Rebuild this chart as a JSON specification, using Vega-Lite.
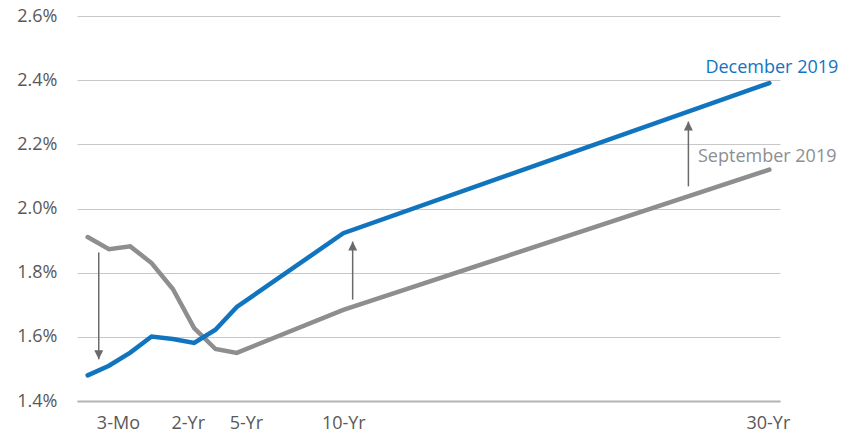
{
  "$schema": "https://vega.github.io/schema/vega-lite/v6.json",
  "width": 703,
  "height": 385,
  "autosize": {"type": "none"},
  "padding": {"left": 77, "top": 16, "right": 72, "bottom": 34},
  "background": "white",
  "config": {
    "view": {"stroke": null},
    "font": "Open Sans"
  },
  "datasets": {
    "curves": [
      {"series": "September 2019", "x": 0, "y": 1.911},
      {"series": "September 2019", "x": 1, "y": 1.873},
      {"series": "September 2019", "x": 2, "y": 1.882},
      {"series": "September 2019", "x": 3, "y": 1.830},
      {"series": "September 2019", "x": 4, "y": 1.749},
      {"series": "September 2019", "x": 5, "y": 1.627},
      {"series": "September 2019", "x": 6, "y": 1.562},
      {"series": "September 2019", "x": 7, "y": 1.550},
      {"series": "September 2019", "x": 12, "y": 1.684},
      {"series": "September 2019", "x": 32, "y": 2.121},
      {"series": "December 2019", "x": 0, "y": 1.480},
      {"series": "December 2019", "x": 1, "y": 1.510},
      {"series": "December 2019", "x": 2, "y": 1.551},
      {"series": "December 2019", "x": 3, "y": 1.601},
      {"series": "December 2019", "x": 4, "y": 1.593},
      {"series": "December 2019", "x": 5, "y": 1.581},
      {"series": "December 2019", "x": 6, "y": 1.622},
      {"series": "December 2019", "x": 7, "y": 1.693},
      {"series": "December 2019", "x": 12, "y": 1.923},
      {"series": "December 2019", "x": 32, "y": 2.391}
    ],
    "arrows": [
      {"x": 0.52, "from": 1.863, "to": 1.530, "dir": "down"},
      {"x": 12.44, "from": 1.716, "to": 1.897, "dir": "up"},
      {"x": 28.2, "from": 2.069, "to": 2.271, "dir": "up"}
    ],
    "labels": [
      {"series": "December 2019", "x": 29.0, "y": 2.437},
      {"series": "September 2019", "x": 28.65, "y": 2.162}
    ]
  },
  "layer": [
    {
      "data": {"name": "curves"},
      "mark": {"type": "line", "strokeWidth": 4.5, "strokeCap": "round", "strokeJoin": "miter"},
      "encoding": {
        "x": {
          "field": "x", "type": "quantitative",
          "scale": {"domain": [-0.5, 32.5], "nice": false, "zero": false},
          "axis": {
            "title": null,
            "values": [1.42, 4.7, 7.43, 12, 31.93],
            "labelExpr": "datum.value < 3 ? '3-Mo' : datum.value < 6 ? '2-Yr' : datum.value < 10 ? '5-Yr' : datum.value < 20 ? '10-Yr' : '30-Yr'",
            "ticks": false,
            "grid": false,
            "domainColor": "#b4b4b4",
            "domainWidth": 2,
            "labelFont": "Open Sans",
            "labelFontSize": 18,
            "labelColor": "#595959",
            "labelBaseline": "middle",
            "labelPadding": 22,
            "labelFlush": false,
            "labelOverlap": false
          }
        },
        "y": {
          "field": "y", "type": "quantitative",
          "scale": {"domain": [1.4, 2.6], "nice": false, "zero": false},
          "axis": {
            "title": null,
            "values": [1.4, 1.6, 1.8, 2.0, 2.2, 2.4, 2.6],
            "labelExpr": "format(datum.value, '.1f') + '%'",
            "ticks": false,
            "domain": false,
            "grid": true,
            "gridColor": "#c8c8c8",
            "gridWidth": 1,
            "labelFont": "Open Sans",
            "labelFontSize": 18,
            "labelColor": "#595959",
            "labelPadding": 20,
            "labelFlush": false
          }
        },
        "color": {
          "field": "series", "type": "nominal",
          "scale": {"domain": ["September 2019", "December 2019"], "range": ["#8e8e90", "#1174bf"]},
          "legend": null
        },
        "detail": {"field": "series"}
      }
    },
    {
      "data": {"name": "arrows"},
      "mark": {"type": "rule", "color": "#6a6a6a", "strokeWidth": 1.5},
      "encoding": {
        "x": {"field": "x", "type": "quantitative"},
        "y": {"field": "from", "type": "quantitative"},
        "y2": {"field": "to"}
      }
    },
    {
      "data": {"name": "arrows"},
      "mark": {"type": "point", "filled": true, "opacity": 1, "color": "#6a6a6a", "size": 324, "strokeWidth": 0},
      "encoding": {
        "x": {"field": "x", "type": "quantitative"},
        "y": {"field": "to", "type": "quantitative"},
        "shape": {
          "field": "dir", "type": "nominal",
          "scale": {"domain": ["down", "up"], "range": ["M0,0 L-0.5,-1 L0.5,-1 Z", "M0,0 L-0.5,1 L0.5,1 Z"]},
          "legend": null
        }
      }
    },
    {
      "data": {"name": "labels"},
      "mark": {"type": "text", "align": "left", "baseline": "middle", "font": "Open Sans", "fontSize": 18},
      "encoding": {
        "x": {"field": "x", "type": "quantitative"},
        "y": {"field": "y", "type": "quantitative"},
        "text": {"field": "series"},
        "color": {
          "field": "series", "type": "nominal",
          "scale": {"domain": ["September 2019", "December 2019"], "range": ["#8e8e90", "#1174bf"]},
          "legend": null
        }
      }
    }
  ]
}
